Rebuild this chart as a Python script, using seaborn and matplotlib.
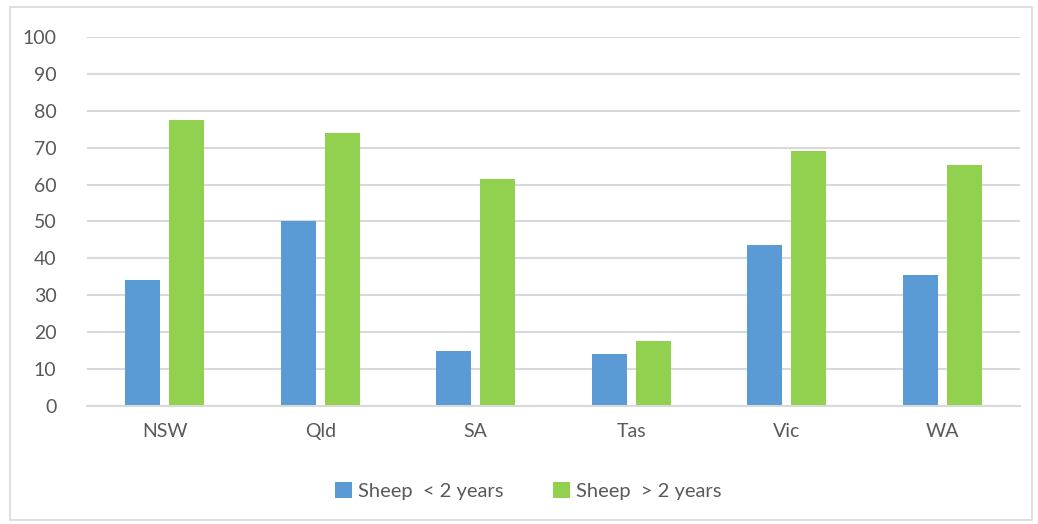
import matplotlib
matplotlib.use("Agg")
import matplotlib.pyplot as plt
import seaborn as sns
import pandas as pd
from matplotlib.patches import Rectangle

states = ["NSW", "Qld", "SA", "Tas", "Vic", "WA"]
under_2 = [34.1, 50.0, 14.8, 14.2, 43.7, 35.5]
over_2 = [77.5, 74.1, 61.4, 17.6, 69.2, 65.3]
series = ["Sheep  < 2 years", "Sheep  > 2 years"]
yticks = [0, 10, 20, 30, 40, 50, 60, 70, 80, 90, 100]

df = pd.DataFrame({
    "state": states * 2,
    "value": under_2 + over_2,
    "series": [series[0]] * len(states) + [series[1]] * len(states),
})

sns.set_theme(style="white")
plt.rcParams["font.family"] = ["Lato", "DejaVu Sans"]

fig = plt.figure(figsize=(10.38, 5.24), dpi=100)
ax = fig.add_axes([0.0838, 0.2252, 0.8989, 0.7042])

palette = {series[0]: "#5B9BD5", series[1]: "#92D050"}
sns.barplot(data=df, x="state", y="value", hue="series", palette=palette,
            width=0.566, gap=0.2, ax=ax, saturation=1, legend=True,
            edgecolor="none")

ax.set_ylim(0, 100)
ax.set_xlim(-0.5, len(states) - 0.5)
ax.set_yticks(yticks)
ax.set_yticklabels([str(t) for t in yticks])
ax.yaxis.grid(True, color="#d9d9d9", linewidth=1.5)
ax.set_axisbelow(True)
for s in ["top", "right", "left"]:
    ax.spines[s].set_visible(False)
ax.spines["bottom"].set_color("#d9d9d9")
ax.spines["bottom"].set_linewidth(1.5)
ax.tick_params(axis="both", length=0, labelsize=14, labelcolor="#595959")
ax.tick_params(axis="y", pad=22)
ax.tick_params(axis="x", pad=12)
ax.set_xlabel("")
ax.set_ylabel("")

leg = ax.legend(loc="center", bbox_to_anchor=(0.509, 0.0625), bbox_transform=fig.transFigure,
                ncol=2, frameon=False, fontsize=14.5, handlelength=0.85, handleheight=0.85,
                handletextpad=0.3, columnspacing=2.45, labelcolor="#595959")

fig.patches.append(Rectangle((10 / 1038, 4 / 524), 1022 / 1038, 513 / 524,
                             transform=fig.transFigure, fill=False,
                             edgecolor="#d9d9d9", linewidth=1.2))

fig.savefig("out.png", dpi=100)
